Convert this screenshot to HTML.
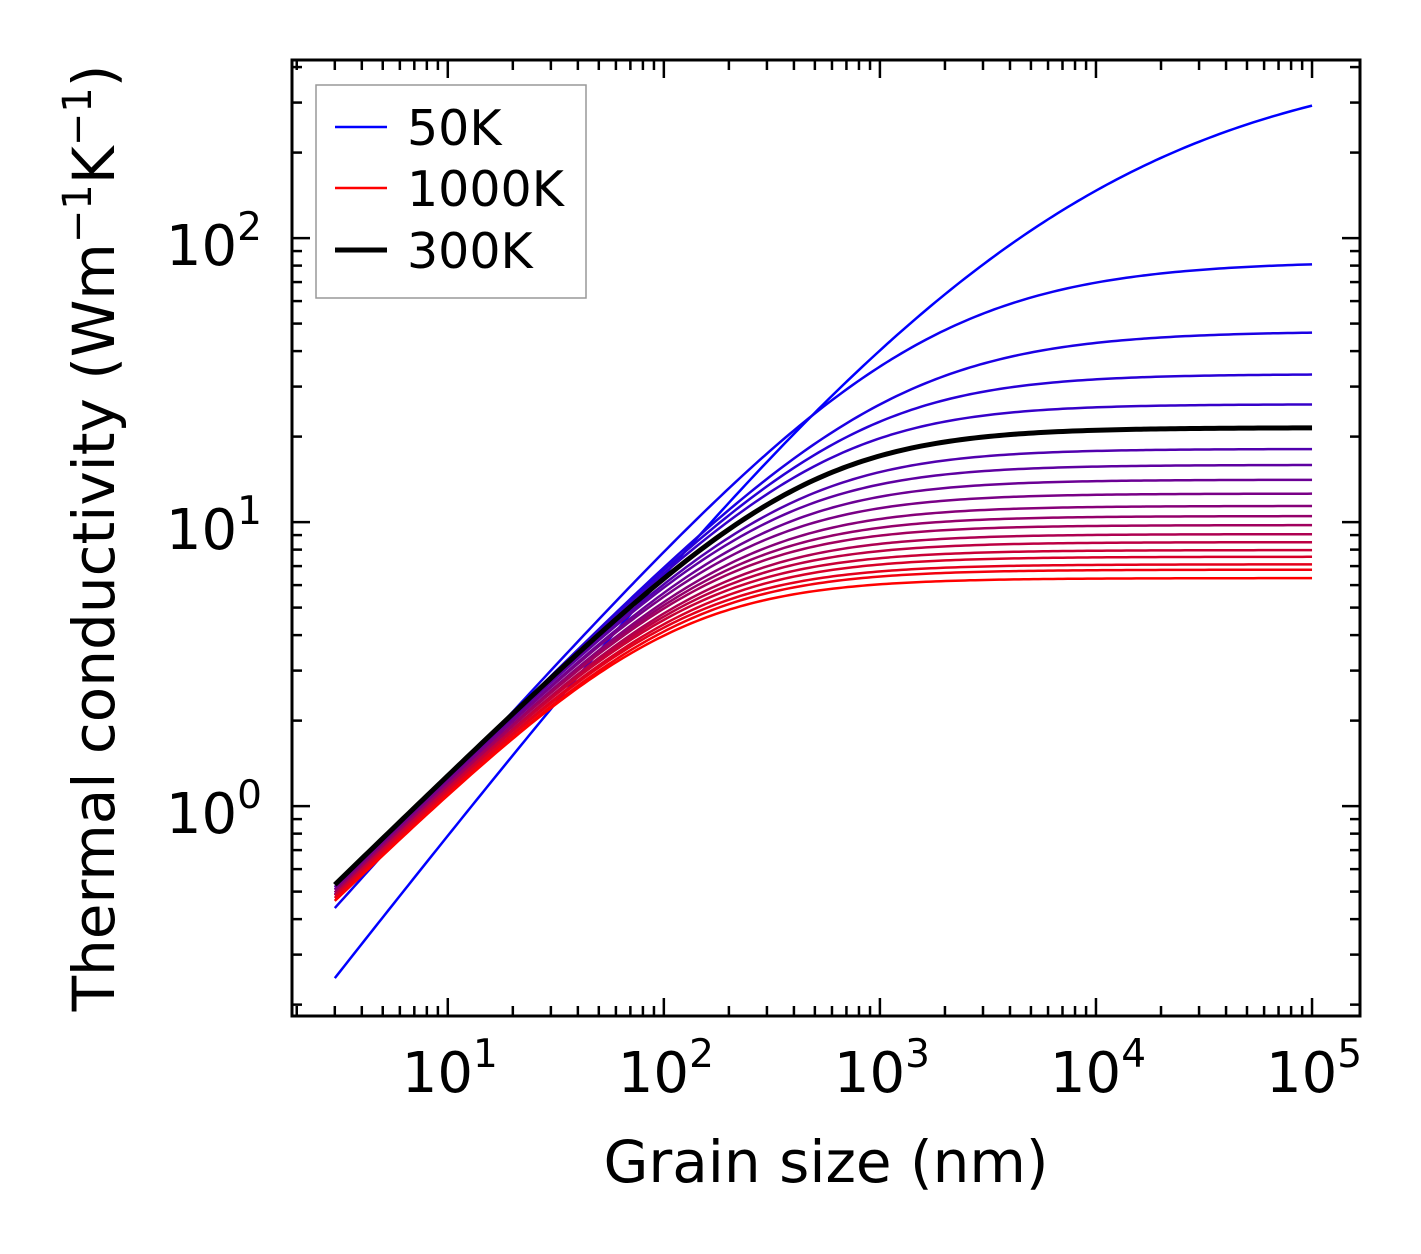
<!DOCTYPE html>
<html><head><meta charset="utf-8"><style>
html,body{margin:0;padding:0;background:#fff;}
svg{display:block;font-family:"DejaVu Sans","Liberation Sans",sans-serif;}
</style></head><body>
<svg id="chart" width="1421" height="1254" viewBox="0 0 1421 1254">
<rect width="1421" height="1254" fill="#fff"/>
<g id="curves"></g>
<g id="axes"></g>
<g id="legend">
<rect x="316" y="85" width="270" height="213" fill="#fff" stroke="#999" stroke-width="1.5"/>
<g><line x1="335" y1="127" x2="387" y2="127" stroke="#0000ff" stroke-width="2.5"/><text x="407" y="145" font-size="49">50K</text></g>
<g><line x1="335" y1="188" x2="387" y2="188" stroke="#ff0000" stroke-width="2.5"/><text x="407" y="206" font-size="49">1000K</text></g>
<g><line x1="335" y1="250" x2="387" y2="250" stroke="#000" stroke-width="5"/><text x="407" y="268" font-size="49">300K</text></g>
</g>
<text x="826" y="1182" font-size="58" text-anchor="middle">Grain size (nm)</text>
<text transform="translate(114,538) rotate(-90)" font-size="58" text-anchor="middle">Thermal conductivity (Wm<tspan dy="-23" font-size="40">−1</tspan><tspan dy="23">K</tspan><tspan dy="-23" font-size="40">−1</tspan><tspan dy="23">)</tspan></text>
</svg>
<script>
// Temperatures (K) for each curve
const temps = [50,100,150,200,250,300,350,400,450,500,550,600,650,700,750,800,850,900,950,1000];
// Plateau conductivity parameter (W/mK)
const kInf = [450,83,47,33.2,26,21.5,18.1,15.9,14.1,12.6,11.4,10.5,9.76,9.07,8.5,7.97,7.55,7.1,6.8,6.35];
// Conductivity at smallest grain size (3 nm)
const kStart = [0.26,0.44,0.49,0.51,0.52,0.53,0.52,0.52,0.51,0.51,0.50,0.50,0.50,0.49,0.49,0.49,0.48,0.48,0.47,0.47];
// Low-size log-log slope
const slopes = [0.99,0.85,0.78,0.76,0.75,0.74,0.74,0.74,0.74,0.74,0.74,0.74,0.74,0.74,0.74,0.74,0.74,0.74,0.74,0.74];
// Transition sharpness
const sharp = [0.5,1.0,1.2,1.4,1.5,1.5,1.5,1.5,1.5,1.5,1.5,1.5,1.5,1.5,1.5,1.5,1.5,1.5,1.5,1.5];
const xTickExps = [1,2,3,4,5];
const yTickExps = [0,1,2];

const X0=292,X1=1360,Y0=60,Y1=1016;
const xl0=0.279, xl1=5.222, yl0=-0.739, yl1=2.627;
const sx = v => X0 + (Math.log10(v)-xl0)/(xl1-xl0)*(X1-X0);
const sy = v => Y1 - (Math.log10(v)-yl0)/(yl1-yl0)*(Y1-Y0);
const NS="http://www.w3.org/2000/svg";
const curves=document.getElementById('curves');
const axes=document.getElementById('axes');

function kval(i,L){
  const s=slopes[i], n=sharp[i];
  const lam = 3*Math.pow(kInf[i]/kStart[i],1/s);
  return kInf[i]*Math.pow(1+Math.pow(lam/L,s*n),-1/n);
}
let blackIdx=-1;
temps.forEach((T,i)=>{
  if(T===300){blackIdx=i;return;}
  draw(i);
});
if(blackIdx>=0) draw(blackIdx);
function draw(i){
  const T=temps[i];
  let d='';
  for(let j=0;j<=200;j++){
    const L=Math.pow(10,Math.log10(3)+j/200*(5-Math.log10(3)));
    d+=(j?'L':'M')+sx(L).toFixed(2)+' '+sy(kval(i,L)).toFixed(2);
  }
  const p=document.createElementNS(NS,'path');
  p.setAttribute('d',d);p.setAttribute('fill','none');
  let col,w;
  if(T===300){col='#000';w=5;}else{
    const f=i/(temps.length-1);
    col=`rgb(${Math.round(255*f)},0,${Math.round(255*(1-f))})`;w=2.5;}
  p.setAttribute('stroke',col);p.setAttribute('stroke-width',w);
  
  
  curves.appendChild(p);
}
function line(x1,y1,x2,y2,w){const l=document.createElementNS(NS,'line');
  l.setAttribute('x1',x1);l.setAttribute('y1',y1);l.setAttribute('x2',x2);l.setAttribute('y2',y2);
  l.setAttribute('stroke','#000');l.setAttribute('stroke-width',w);axes.appendChild(l);return l;}
for(let e=0;e<=5;e++){for(let m=1;m<10;m++){const v=m*Math.pow(10,e);const lv=Math.log10(v);
  if(lv<xl0||lv>xl1)continue;const x=sx(v);const len=m===1?18:10;
  const t1=line(x,Y1,x,Y1-len,2.5);
  
  
  const t2=line(x,Y0,x,Y0+len,2.5);
  
  
}}
for(let e=-1;e<=2;e++){for(let m=1;m<10;m++){const v=m*Math.pow(10,e);const lv=Math.log10(v);
  if(lv<yl0||lv>yl1)continue;const y=sy(v);const len=m===1?18:10;
  const t1=line(X0,y,X0+len,y,2.5);
  
  
  const t2=line(X1,y,X1-len,y,2.5);
  
  
}}
const fr=document.createElementNS(NS,'rect');
fr.setAttribute('x',X0);fr.setAttribute('y',Y0);fr.setAttribute('width',X1-X0);fr.setAttribute('height',Y1-Y0);
fr.setAttribute('fill','none');fr.setAttribute('stroke','#000');fr.setAttribute('stroke-width',3);


axes.appendChild(fr);
function label(x,y,e,anchor,name){const t=document.createElementNS(NS,'text');
  t.setAttribute('x',x);t.setAttribute('y',y);t.setAttribute('font-size','56');t.setAttribute('text-anchor',anchor);
  t.innerHTML='10<tspan dy="-25" font-size="39">'+e+'</tspan>';
  
  
  axes.appendChild(t);}
xTickExps.forEach(e=>label(sx(Math.pow(10,e))+2,1092,e,'middle','x-tick-label'));
yTickExps.forEach(e=>label(262,sy(Math.pow(10,e))+27,e,'end','y-tick-label'));
</script>
</body></html>
